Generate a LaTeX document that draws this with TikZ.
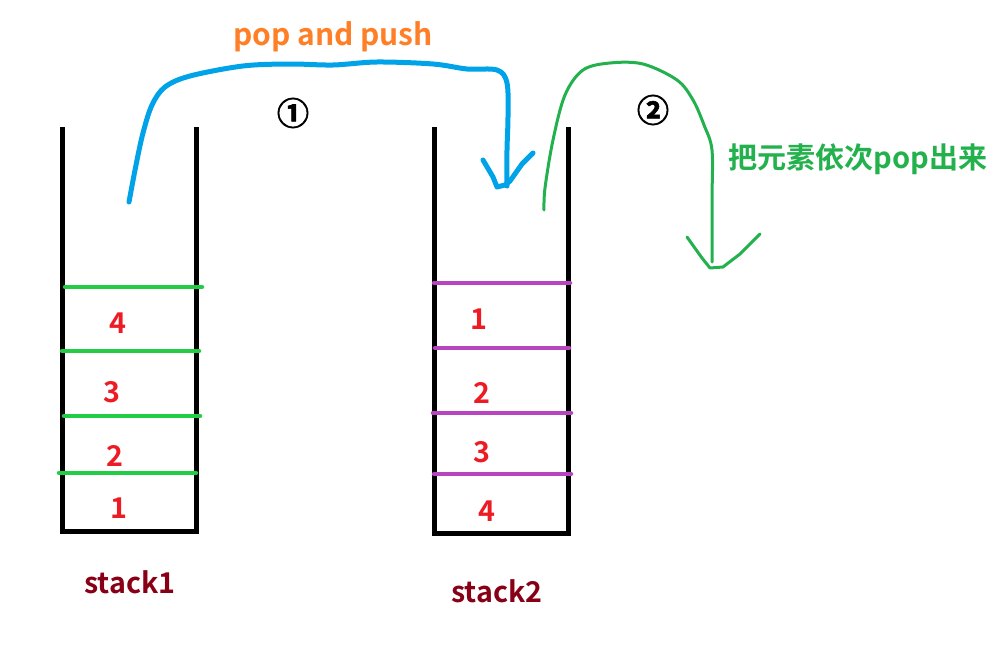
\documentclass[tikz,border=0pt]{standalone}
\usepackage{fontspec}
\setmainfont{Noto Sans CJK SC}[BoldFont={Noto Sans CJK SC Bold}]
\newfontfamily\circfont{Noto Sans CJK SC Bold}[FakeBold=2]
\definecolor{wallc}{RGB}{0,0,0}
\definecolor{grn}{RGB}{34,204,68}
\definecolor{pur}{RGB}{184,68,192}
\definecolor{numred}{RGB}{237,28,36}
\definecolor{lblred}{RGB}{136,0,21}
\definecolor{orng}{RGB}{255,127,39}
\definecolor{blu}{RGB}{0,162,232}
\definecolor{grn2}{RGB}{34,177,76}
\begin{document}
\begin{tikzpicture}[x=0.75pt,y=-0.75pt,
  wall/.style={line width=5pt*0.75, draw=wallc},
  gline/.style={line width=4.5pt*0.75, draw=grn, line cap=round},
  pline/.style={line width=4.5pt*0.75, draw=pur, line cap=round},
  num/.style={text=numred, font=\bfseries\fontsize{21.5}{21.5}\selectfont, inner sep=0pt},
  lbl/.style={text=lblred, font=\bfseries\fontsize{21.5}{21.5}\selectfont, inner sep=0pt},
  circ/.style={text=black, font=\circfont\fontsize{24}{24}\selectfont, inner sep=0pt},
  bstroke/.style={draw=blu, line width=5pt*0.75, line cap=round, line join=round},
  gstroke/.style={draw=grn2, line width=3pt*0.75, line cap=round, line join=round}]
\useasboundingbox (0,0) rectangle (1001,653);
% stack 1
\draw[wall] (62,127) -- (62,531) -- (196,531) -- (196,127);
\draw[gline] (65,287) -- (202,287);
\draw[gline] (62,351) -- (199,351);
\draw[gline] (64,416) -- (200,416);
\draw[gline] (59,473) -- (196,473);
\node[num] (a4) at (118,323) {4};
\node[num] (a3) at (112,392) {3};
\node[num] (a2) at (115,456) {2};
\node[num] (a1) at (119,508) {1};
\node[lbl] (s1) at (130,582) {stack1};
% stack 2
\draw[wall] (434,127) -- (434,533) -- (568,533) -- (568,127);
\draw[pline] (434,283) -- (570,283);
\draw[pline] (435,348) -- (569,348);
\draw[pline] (433,413) -- (571,413);
\draw[pline] (434,474) -- (571,474);
\node[num] (b1) at (479,319) {1};
\node[num] (b2) at (482,393) {2};
\node[num] (b3) at (482,452) {3};
\node[num] (b4) at (487,511) {4};
\node[lbl] (s2) at (497,591) {stack2};
% labels
\node[text=orng, font=\bfseries\fontsize{22.5}{22.5}\selectfont, inner sep=0pt] (pp) at (333,37) {pop and push};
\node[circ] (c1) at (293,113) {①};
\node[circ] (c2) at (653,110) {②};
\node[text=grn2, font=\bfseries\fontsize{21.8}{21.8}\selectfont, inner sep=0pt] (cn) at (858,159) {把元素依次pop出来};
% blue curve
\coordinate (bs) at (129,202);
\coordinate (be) at (507,186);
\draw[bstroke] plot[smooth, tension=0.55] coordinates {(bs) (136,165) (143,133) (152,105) (165,87) (190,76) (243,66) (290,64) (333,65) (377,62) (433,64) (467,69) (497,70) (507,83) (508,117) (507,150) (be)};
\draw[bstroke] (483,160) -- (493,177) -- (497,187) -- (505,185) -- (510,181) -- (522,164) -- (533,153);
% green curve
\coordinate (gs) at (544,210);
\coordinate (ge) at (712,262);
\draw[gstroke] plot[smooth, tension=0.55] coordinates {(gs) (545,188) (553,140) (565,95) (583,70) (610,63) (643,64) (677,80) (693,100) (704,125) (712,150) (712,200) (ge)};
\draw[gstroke] (687,237) -- (702,258) -- (710,268) -- (723,267) -- (740,254) -- (760,234);
\end{tikzpicture}
\end{document}
